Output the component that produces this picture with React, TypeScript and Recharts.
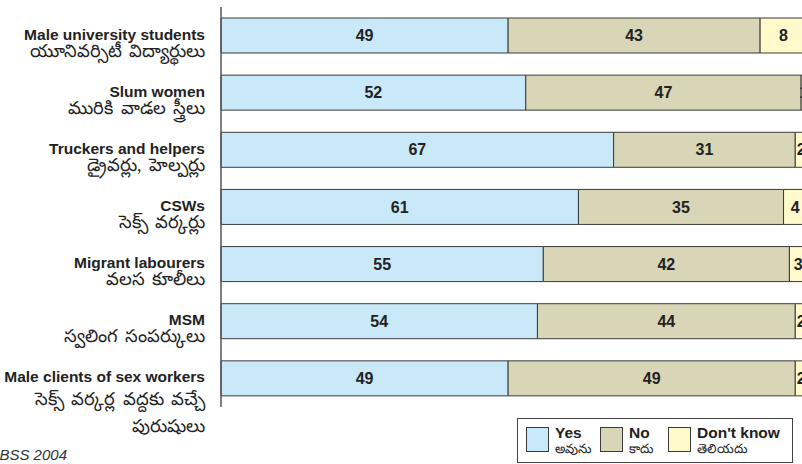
import React from "react";
import { BarChart, Bar, XAxis, YAxis, LabelList } from "recharts";

const groups = [
  "Male university students",
  "Slum women",
  "Truckers and helpers",
  "CSWs",
  "Migrant labourers",
  "MSM",
  "Male clients of sex workers",
];
const groupsTe = [
  ["యూనివర్సిటీ విద్యార్థులు"],
  ["మురికి వాడల స్త్రీలు"],
  ["డ్రైవర్లు, హెల్పర్లు"],
  ["సెక్స్ వర్కర్లు"],
  ["వలస కూలీలు"],
  ["స్వలింగ సంపర్కులు"],
  ["సెక్స్ వర్కర్ల వద్దకు వచ్చే", "పురుషులు"],
];
const yes = [49, 52, 67, 61, 55, 54, 49];
const no = [43, 47, 31, 35, 42, 44, 49];
const dontKnow = [8, 1, 2, 4, 3, 2, 2];

const seriesNames = ["Yes", "No", "Don't know"];
const seriesNamesTe = ["అవును", "కాదు", "తెలియదు"];
const seriesColors = ["#C9E9F9", "#D8D6B7", "#FFF9CC"];

const data = groups.map((g, i) => ({ group: g, yes: yes[i], no: no[i], dontKnow: dontKnow[i] }));

const FONT = '"Liberation Sans", Arial, Helvetica, sans-serif';
const EDGE = "#3a3a3a";

function GroupTick(props: any) {
  const { x, y, payload } = props;
  const idx = groups.indexOf(payload.value);
  const te = groupsTe[idx] || [];
  // two-line Telugu labels sit a little lower
  const first = te.length > 1 ? 27 : 21;
  return (
    <g>
      <text x={x} y={y + 4} textAnchor="end" fontFamily={FONT} fontWeight="bold" fontSize={15.5} fill="#222">
        {payload.value}
      </text>
      {te.map((t, k) => (
        <text key={k} x={x} y={y + first + k * 27} textAnchor="end" fontSize={18} fill="#222" wordSpacing={3}>
          {t}
        </text>
      ))}
    </g>
  );
}

function Legendbox() {
  const offsets = [0, 74, 142];
  return (
    <div
      style={{
        position: "absolute",
        left: 517,
        top: 418,
        width: 274,
        height: 43,
        border: "1.5px solid #444",
        background: "#fff",
      }}
    >
      {seriesNames.map((n, i) => (
        <div key={n} style={{ position: "absolute", left: 8 + offsets[i], top: 7 }}>
          <div
            style={{
              position: "absolute",
              left: 0,
              top: 1,
              width: 21,
              height: 23,
              background: seriesColors[i],
              border: "1px solid " + EDGE,
            }}
          />
          <div
            style={{
              position: "absolute",
              left: 29,
              top: -2,
              whiteSpace: "nowrap",
              fontFamily: FONT,
              fontWeight: "bold",
              fontSize: 15.5,
              color: "#222",
            }}
          >
            {n}
          </div>
          <div
            style={{
              position: "absolute",
              left: 29,
              top: 15,
              whiteSpace: "nowrap",
              fontSize: 13,
              color: "#222",
            }}
          >
            {seriesNamesTe[i]}
          </div>
        </div>
      ))}
    </div>
  );
}

export default function App() {
  const keys = ["yes", "no", "dontKnow"];
  return (
    <div
      style={{
        position: "fixed",
        left: 0,
        top: 0,
        width: 802,
        height: 464,
        overflow: "hidden",
        background: "#fff",
      }}
    >
      <BarChart
        width={830}
        height={464}
        data={data}
        layout="vertical"
        margin={{ top: 7, right: 23, left: 0, bottom: 57 }}
        barSize={35}
      >
        <XAxis type="number" domain={[0, 100]} hide />
        <YAxis
          type="category"
          dataKey="group"
          width={221}
          axisLine={{ stroke: "#555", strokeWidth: 1.5 }}
          tickLine={false}
          tickSize={0}
          tickMargin={16}
          tick={<GroupTick />}
          interval={0}
        />
        {keys.map((k, i) => (
          <Bar
            key={k}
            dataKey={k}
            stackId="a"
            fill={seriesColors[i]}
            stroke={EDGE}
            strokeWidth={1}
            isAnimationActive={false}
          >
            <LabelList
              dataKey={k}
              position="center"
              fill="#222"
              fontFamily={FONT}
              fontWeight="bold"
              fontSize={16}
            />
          </Bar>
        ))}
      </BarChart>
      <div
        style={{
          position: "absolute",
          right: 735,
          top: 446,
          fontFamily: FONT,
          fontStyle: "italic",
          fontSize: 15,
          color: "#333",
          whiteSpace: "nowrap",
        }}
      >
        BSS 2004
      </div>
      <Legendbox />
    </div>
  );
}
